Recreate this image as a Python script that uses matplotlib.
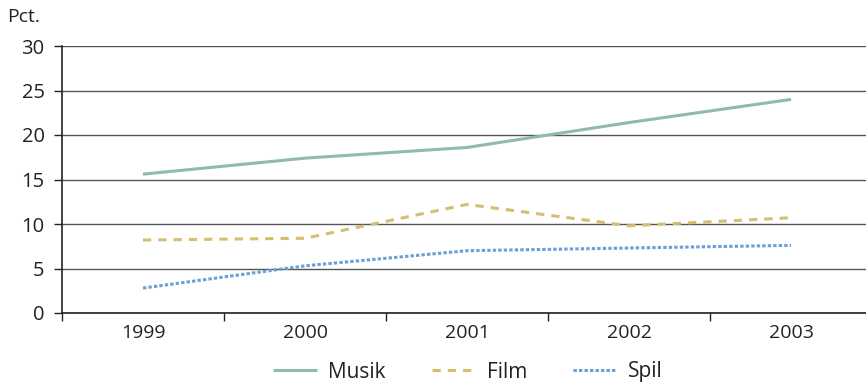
import matplotlib
matplotlib.use("Agg")
import matplotlib.pyplot as plt

plt.rcParams['font.family'] = ['Open Sans', 'DejaVu Sans']

years = ["1999", "2000", "2001", "2002", "2003"]
musik = [15.6, 17.4, 18.6, 21.4, 24.0]
film = [8.2, 8.4, 12.2, 9.8, 10.7]
spil = [2.8, 5.3, 7.0, 7.3, 7.6]

fig = plt.figure(figsize=(8.66, 3.84), dpi=100)
ax = fig.add_axes([62 / 866, 1 - 313 / 384, 810 / 866, 267 / 384])

x = [i + 0.5 for i in range(len(years))]
ax.plot(x, musik, color="#8fbab1", lw=2.2, label="Musik", solid_capstyle="butt")
ax.plot(x, film, color="#d4bf6c", lw=2.2, ls=(0, (2.7, 2.3)), label="Film")
ax.plot(x, spil, color="#6c9fd6", lw=2.2, ls=(0, (1.1, 0.7)), label="Spil")

ax.set_xlim(0, len(years))
ax.set_ylim(0, 30)
ax.set_yticks(range(0, 31, 5))
ax.set_xticks(range(0, len(years) + 1))
ax.set_xticklabels([])
ax.set_xticks(x, minor=True)
ax.set_xticklabels(years, minor=True)
ax.tick_params(axis="x", which="minor", length=0, pad=8, labelsize=14, labelcolor="#222222")
ax.tick_params(axis="x", which="major", length=6, width=1, direction="out", color="#222222")
ax.tick_params(axis="y", length=6, width=1, direction="out", labelsize=14.5, pad=6.5,
               color="#222222", labelcolor="#222222")

ax.grid(axis="y", color="#555555", lw=1)
ax.set_axisbelow(True)
for s in ["top", "right"]:
    ax.spines[s].set_visible(False)
ax.spines["left"].set_color("#222222")
ax.spines["bottom"].set_color("#222222")
ax.spines["left"].set_linewidth(1.2)
ax.spines["bottom"].set_linewidth(1.2)

fig.text(7 / 866, 1 - 17 / 384, "Pct.", fontsize=14, va="center", ha="left", color="#222222")

fig.legend(loc="center", bbox_to_anchor=(468 / 866, 1 - 372 / 384), ncol=3, frameon=False,
           fontsize=15, handlelength=2.1, columnspacing=2.2, handletextpad=0.55,
           labelcolor="#222222")

fig.savefig("out.png", dpi=100)
